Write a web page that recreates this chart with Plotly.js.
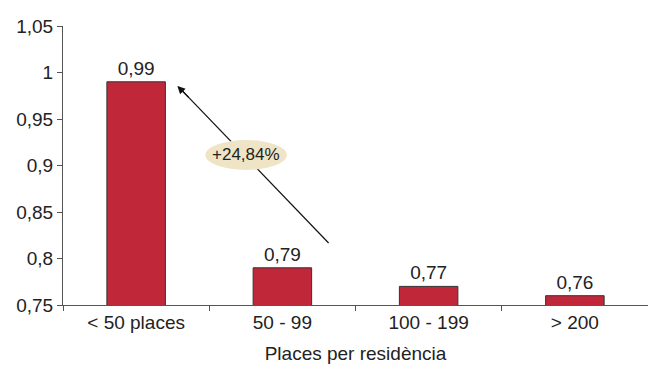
<!DOCTYPE html>
<html>
<head>
<meta charset="utf-8">
<script src="https://cdn.plot.ly/plotly-3.0.1.min.js"></script>
<style>html,body{margin:0;padding:0;background:#fff;}#chart{width:648px;height:378px;}</style>
</head>
<body>
<div id="chart"></div>
<script>
const categories = ["< 50 places", "50 - 99", "100 - 199", "> 200"];
const values = [0.99, 0.79, 0.77, 0.76];
const valueLabels = ["0,99", "0,79", "0,77", "0,76"];
const changeLabel = "+24,84%";
const xTitle = "Places per residència";

const FONT = '"Liberation Sans", Arial, sans-serif';

const trace = {
  type: 'bar',
  x: categories,
  y: values,
  text: valueLabels,
  textposition: 'outside',
  texttemplate: '%{text}',
  cliponaxis: false,
  textfont: {family: FONT, size: 19, color: '#222'},
  marker: {color: '#c0283a', line: {color: '#333', width: 1}},
  width: 0.4,
  hoverinfo: 'none'
};

const layout = {
  width: 648, height: 378,
  margin: {l: 63, r: 0, t: 26, b: 73},
  paper_bgcolor: '#fff', plot_bgcolor: '#fff',
  separators: ', ',
  showlegend: false,
  font: {family: FONT, size: 19, color: '#222'},
  xaxis: {
    type: 'category',
    range: [-0.5, 3.5],
    showline: true, linecolor: '#555', linewidth: 1,
    ticks: 'outside', tickson: 'boundaries', ticklen: 5, tickcolor: '#555',
    showgrid: false, zeroline: false,
    tickfont: {family: FONT, size: 19, color: '#222'},
    title: {text: xTitle, font: {family: FONT, size: 19, color: '#222'}, standoff: 14}
  },
  yaxis: {
    range: [0.75, 1.05],
    dtick: 0.05, tick0: 0.75,
    showline: true, linecolor: '#555', linewidth: 1,
    ticks: 'outside', ticklen: 5, tickcolor: '#555',
    showgrid: false, zeroline: false,
    tickfont: {family: FONT, size: 19, color: '#222'}
  },
  shapes: [
    {type: 'line', xref: 'x', yref: 'y', layer: 'above',
     x0: 1.316, y0: 0.8167, x1: 0.29, y1: 0.9845,
     line: {color: '#111', width: 1.2}},
    {type: 'circle', xref: 'x', yref: 'y', layer: 'above',
     x0: 0.473, x1: 1.031, y0: 0.8952, y1: 0.9274,
     fillcolor: '#efe4c6', line: {width: 0}}
  ],
  annotations: [
    {xref: 'x', yref: 'y', x: 0.282, y: 0.9855,
     axref: 'x', ayref: 'y', ax: 0.37, ay: 0.9715,
     text: '', showarrow: true, arrowhead: 2, arrowsize: 1.3, arrowwidth: 1.2, arrowcolor: '#111'},
    {xref: 'x', yref: 'y', x: 0.752, y: 0.9113, text: changeLabel, showarrow: false,
     font: {family: FONT, size: 17, color: '#222'}}
  ]
};

Plotly.newPlot('chart', [trace], layout, {displayModeBar: false, staticPlot: true});
</script>
</body>
</html>
